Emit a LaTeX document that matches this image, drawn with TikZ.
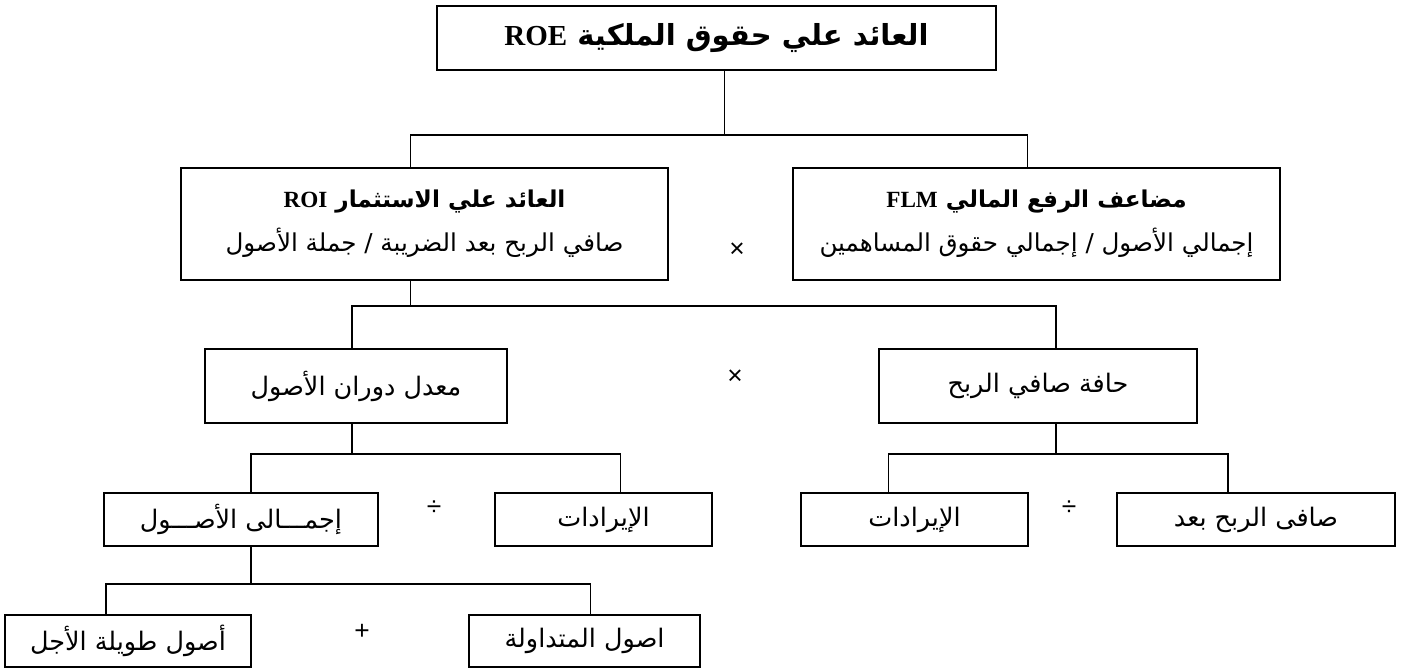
\documentclass[tikz,border=0pt]{standalone}
\usepackage{fontspec}
\usetikzlibrary{calc}
\TeXXeTstate=1
\newfontfamily\arabicfont[Script=Arabic]{DejaVu Sans}
\newfontfamily\latinfont{Liberation Serif}
\newfontfamily\signfont{Liberation Sans}
\newcommand\ar[1]{\beginR #1\endR}
\newcommand\lat[1]{\beginL{\latinfont #1}\endL}

\begin{document}
\begin{tikzpicture}[x=0.02cm,y=-0.02cm,
    box/.style={draw, line width=1.3pt, inner sep=0pt, align=center,
        font=\arabicfont\fontsize{14.5}{25}\selectfont},
    link/.style={line width=1pt},
    sign/.style={font=\signfont\fontsize{15}{15}\selectfont}]
        \useasboundingbox (0,0) rectangle (1422,668);
        \node [box, minimum width=11.18cm, minimum height=1.28cm, font=\arabicfont\bfseries\fontsize{16.5}{20}\selectfont] (roe) at (716.5,38) {\ar{العائد علي حقوق الملكية \lat{ROE}}};
        \node [box, minimum width=9.74cm, minimum height=2.24cm, font=\arabicfont\fontsize{14}{25}\selectfont] (roi) at (424.5,224) {{\bfseries\fontsize{13.2}{25}\selectfont\ar{العائد علي الاستثمار \lat{ROI}}}\\\ar{صافي الربح بعد الضريبة / جملة الأصول}};
        \node [box, minimum width=9.74cm, minimum height=2.24cm, font=\arabicfont\fontsize{14}{25}\selectfont] (flm) at (1036.5,224) {{\bfseries\fontsize{13.2}{25}\selectfont\ar{مضاعف الرفع المالي \lat{FLM}}}\\\ar{إجمالي الأصول / إجمالي حقوق المساهمين}};
        \node [box, minimum width=6.04cm, minimum height=1.48cm] (turn) at (356,386) {\ar{معدل دوران الأصول}};
        \node [box, minimum width=6.36cm, minimum height=1.48cm] (margin) at (1038,386) {\ar{حافة صافي الربح}};
        \node [box, minimum width=5.48cm, minimum height=1.06cm] (tassets) at (241,519.5) {\ar{إجمـــالى الأصـــول}};
        \node [box, minimum width=4.34cm, minimum height=1.06cm] (revl) at (603.5,519.5) {\ar{الإيرادات}};
        \node [box, minimum width=4.54cm, minimum height=1.06cm] (revr) at (914.5,519.5) {\ar{الإيرادات}};
        \node [box, minimum width=5.56cm, minimum height=1.06cm] (netp) at (1256,519.5) {\ar{صافى الربح بعد}};
        \node [box, minimum width=4.92cm, minimum height=1.04cm] (longa) at (128,641) {\ar{أصول طويلة الأجل}};
        \node [box, minimum width=4.62cm, minimum height=1.04cm] (cura) at (584.5,641) {\ar{اصول المتداولة}};
        \node [sign] (op1) at (737,250) {×};
        \node [sign] (op2) at (735,377) {×};
        \node [sign] (op3) at (434,508) {÷};
        \node [sign] (op4) at (1069,508) {÷};
        \node [sign] (op5) at (362,632) {+};
        \draw[link] ($(roe.south)+(8,0)$) -- ++(0,64) coordinate (j1);
        \draw[link] ($(roi.north)+(-14,0)$) |- (j1) -| ($(flm.north)+(-9,0)$);
        \draw[link] ($(roi.south)+(-14,0)$) -- ++(0,25) coordinate (j2);
        \draw[link] ($(turn.north)+(-4,0)$) |- (j2) -| ($(margin.north)+(18,0)$);
        \draw[link] ($(turn.south)+(-4,0)$) -- ++(0,30) coordinate (j3);
        \draw[link] ($(tassets.north)+(10,0)$) |- (j3) -| ($(revl.north)+(17,0)$);
        \draw[link] ($(margin.south)+(18,0)$) -- ++(0,30) coordinate (j4);
        \draw[link] ($(revr.north)+(-26,0)$) |- (j4) -| ($(netp.north)+(-28,0)$);
        \draw[link] ($(tassets.south)+(10,0)$) -- ++(0,37) coordinate (j5);
        \draw[link] ($(longa.north)+(-22,0)$) |- (j5) -| ($(cura.north)+(6,0)$);
    \end{tikzpicture}
\end{document}
